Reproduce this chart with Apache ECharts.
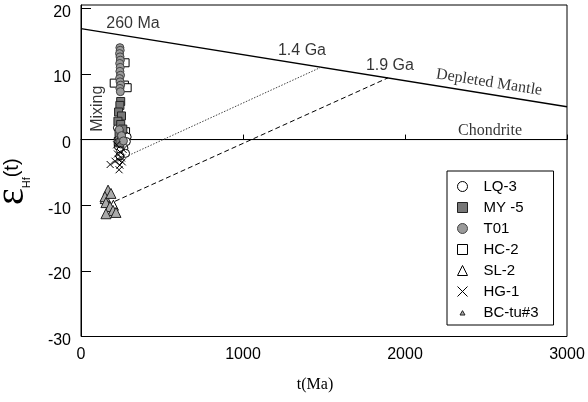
<!DOCTYPE html>
<html>
<head>
<meta charset="utf-8">
<script src="https://cdn.jsdelivr.net/npm/echarts@6/dist/echarts.min.js"></script>
<style>
  html, body { margin: 0; padding: 0; background: #fff; }
  #chart { width: 588px; height: 402px; }
</style>
</head>
<body>
<div id="chart"></div>
<script>
// 样品数据 (t in Ma, εHf(t))
const lq3T = [225, 240, 255, 270, 285, 235, 260, 280, 250, 230, 265, 245, 275, 240];
const lq3E = [1.8, 1.2, 0.9, 0.6, 0.4, 0.2, -0.1, -0.3, -0.6, -1.0, -1.3, -1.7, -2.1, -2.5];

const my5T = [245, 240, 232, 250, 228, 245, 258, 235, 250, 240];
const my5E = [5.8, 5.2, 4.2, 3.6, 2.8, 2.3, 1.6, 1.0, 0.3, -0.5];

const t01T = [240, 242, 238, 241, 243, 239, 242, 240, 244, 238, 241, 245, 240, 243, 236, 250, 262];
const t01E = [14.0, 13.6, 13.1, 12.6, 12.1, 11.6, 11.0, 10.4, 9.8, 9.3, 8.8, 8.3, 7.8, 7.3, 1.5, 0.6, -0.2];

const hc2T = [272, 205, 268, 285, 275, 230];
const hc2E = [11.7, 8.6, 8.3, 7.9, 1.2, -0.3];

const sl2T = [150, 200];
const sl2E = [-9.0, -10.0];

const hg1T = [180, 235, 210, 250, 225, 260, 240, 220, 255, 230, 245];
const hg1E = [-3.8, -4.6, -3.3, -2.8, -2.2, -1.5, -3.9, -0.8, -3.4, -3.0, -2.0];

const bcT = [167, 148, 185, 154, 179, 198, 154, 216];
const bcE = [-7.7, -8.7, -8.2, -9.6, -10.2, -10.8, -11.3, -11.1];

// 参考线
const dmT = [0, 3000];
const dmE = [16.9, 5.0];
const chT = [0, 3000];
const chE = [0, 0];
const ga14T = [260, 1480];
const ga14E = [-2.8, 11.0];
const ga19T = [210, 1895];
const ga19E = [-9.4, 9.4];

// 标注文字
const noteNames = ['260 Ma', '1.4 Ga', '1.9 Ga', 'Depleted Mantle', 'Chondrite', 'Mixing'];
const noteT = [321, 1364, 1907, 2519, 2525, 105];
const noteE = [17.7, 13.6, 11.3, 8.7, 1.3, 4.7];

const legendNames = ['LQ-3', 'MY -5', 'T01', 'HC-2', 'SL-2', 'HG-1', 'BC-tu#3'];

const zip = (xs, ys) => xs.map((x, i) => [x, ys[i]]);

const chart = echarts.init(document.getElementById('chart'));

const sans = 'Liberation Sans, Arial, sans-serif';
const serif = 'Liberation Serif, Times New Roman, serif';
const crossPath = 'path://M0,0L10,10M10,0L0,10';

const scatter = (name, data, symbol, size, fill, border) => ({
  name,
  type: 'scatter',
  data,
  symbol,
  symbolSize: size,
  itemStyle: { color: fill, borderColor: border, borderWidth: 1, opacity: 1 },
  emphasis: { disabled: true }
});

const line = (data, width, type, color) => ({
  type: 'line',
  data,
  symbol: 'none',
  silent: true,
  lineStyle: { color, width, type },
  z: 1
});

const noteStyle = name => {
  const isSerif = name === 'Depleted Mantle' || name === 'Chondrite';
  let rotate = 0;
  if (name === 'Depleted Mantle') rotate = -9;
  if (name === 'Mixing') rotate = 90;
  return { show: true, position: 'inside', formatter: '{b}', color: '#000', fontSize: 16, fontFamily: isSerif ? serif : sans, rotate };
};

chart.setOption({
  animation: false,
  backgroundColor: '#fff',
  grid: { left: 81, right: 21, top: 5, bottom: 65.5, show: true, borderColor: '#000', borderWidth: 1, containLabel: false, outerBoundsMode: 'none' },
  xAxis: {
    type: 'value',
    min: 0,
    max: 3000,
    interval: 1000,
    name: 't(Ma)',
    nameLocation: 'middle',
    nameGap: 40,
    nameTextStyle: { fontFamily: serif, fontSize: 16, color: '#000', padding: [0, 18, 0, 0] },
    axisLine: { lineStyle: { color: '#000', width: 1 } },
    axisTick: { inside: true, length: 5, lineStyle: { color: '#000' } },
    axisLabel: { fontFamily: sans, fontSize: 16, color: '#000', margin: 10, formatter: v => String(v) },
    splitLine: { show: false }
  },
  yAxis: {
    type: 'value',
    min: -30,
    max: 20.5,
    interval: 10,
    name: '{e|ε}{s|Hf}{t|(t)}',
    nameLocation: 'middle',
    nameRotate: 90,
    nameGap: 49,
    nameTextStyle: {
      color: '#000',
      padding: [0, 22, 0, 0],
      rich: {
        e: { fontFamily: serif, fontSize: 40, color: '#000' },
        s: { fontFamily: sans, fontSize: 11, color: '#000', verticalAlign: 'bottom' },
        t: { fontFamily: sans, fontSize: 20, color: '#000' }
      }
    },
    axisLine: { show: true, lineStyle: { color: '#000', width: 1 } },
    axisTick: { inside: true, length: 10, lineStyle: { color: '#000' } },
    axisLabel: { fontFamily: sans, fontSize: 16, color: '#000', margin: 10, showMaxLabel: false, verticalAlign: 'top', lineHeight: 8 },
    splitLine: { show: false }
  },
  legend: {
    data: legendNames.map(n => n === 'BC-tu#3' ? { name: n, icon: 'path://M0,0M16,16M4,12L8,5L12,12Z' } : n),
    orient: 'vertical',
    left: 447,
    top: 171,
    padding: [8, 15, 5, 10],
    itemWidth: 10,
    itemHeight: 10,
    itemGap: 6,
    itemStyle: { borderWidth: 1 },
    borderColor: '#000',
    borderWidth: 1,
    backgroundColor: '#fff',
    selectedMode: false,
    textStyle: { fontFamily: sans, fontSize: 15, color: '#000', padding: [0, 0, 0, 11] }
  },
  series: [
    line(zip(dmT, dmE), 1.3, 'solid', '#000'),
    line(zip(chT, chE), 1, 'solid', '#000'),
    line(zip(ga14T, ga14E), 1, [1.5, 1.5], '#444'),
    line(zip(ga19T, ga19E), 1, [5, 3], '#000'),
    scatter('HC-2', zip(hc2T, hc2E), 'rect', 8, '#fff', '#000'),
    scatter('LQ-3', zip(lq3T, lq3E), 'circle', 8, '#fff', '#000'),
    scatter('MY -5', zip(my5T, my5E), 'rect', 8, '#777', '#222'),
    scatter('T01', zip(t01T, t01E), 'circle', 8, '#9a9a9a', '#444'),
    scatter('HG-1', zip(hg1T, hg1E), crossPath, 7, 'rgba(0,0,0,0)', '#000'),
    scatter('SL-2', zip(sl2T, sl2E), 'triangle', 10, '#fff', '#000'),
    scatter('BC-tu#3', zip(bcT, bcE), 'triangle', 10, '#aaa', '#222'),
    {
      type: 'scatter',
      silent: true,
      symbolSize: 1,
      itemStyle: { color: 'rgba(0,0,0,0)' },
      data: noteNames.map((n, i) => ({ name: n, value: [noteT[i], noteE[i]], label: noteStyle(n) })),
      z: 5
    }
  ]
});

// 窗口大小变化时重新调整图表
window.addEventListener('resize', () => chart.resize());
</script>
</body>
</html>
